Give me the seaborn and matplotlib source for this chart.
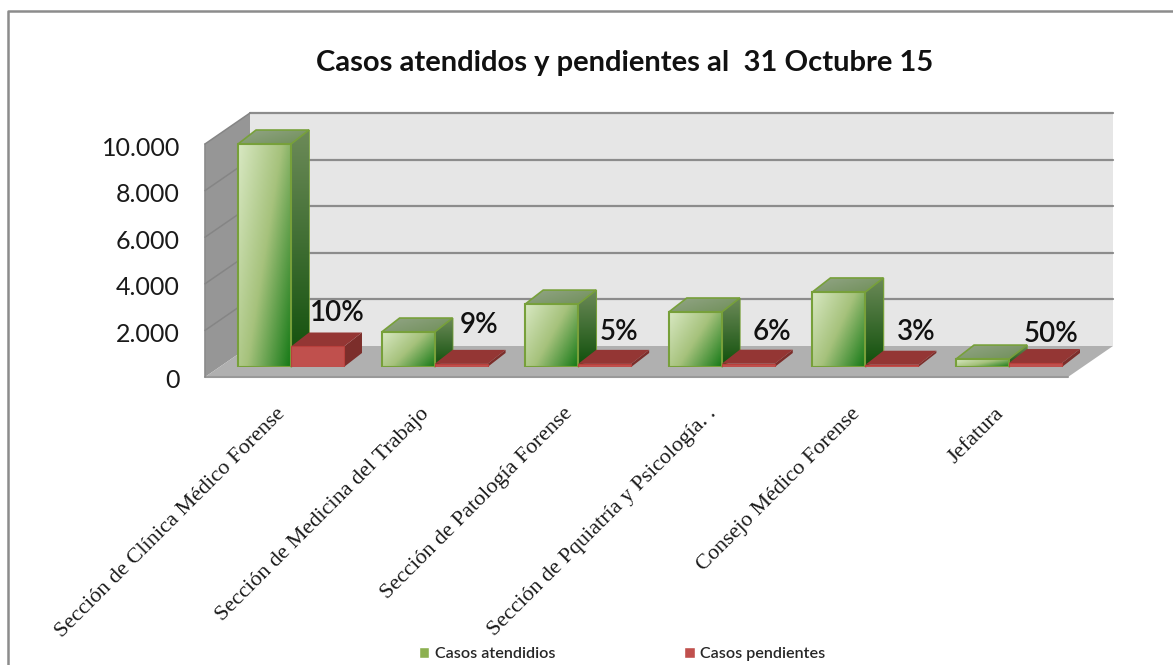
#!/usr/bin/env python3
"""Casos atendidos y pendientes: faux 3D bar chart on top of a seaborn barplot."""

import numpy as np
import pandas as pd
import matplotlib
matplotlib.use("Agg")
import matplotlib.pyplot as plt
from matplotlib.colors import LinearSegmentedColormap
from matplotlib.patches import Polygon
from matplotlib.ticker import FuncFormatter
from matplotlib.transforms import ScaledTranslation
import seaborn as sns

secciones = [
    "Sección de Clínica Médico Forense",
    "Sección de Medicina del Trabajo",
    "Sección de Patología Forense",
    "Sección de Pquiatría y Psicología. .",
    "Consejo Médico Forense",
    "Jefatura",
]
atendidos = [9570, 1500, 2700, 2360, 3220, 340]
pendientes = [880, 135, 135, 142, 97, 170]
etiquetas = ["10%", "9%", "5%", "6%", "3%", "50%"]
y_ticks = [0, 2000, 4000, 6000, 8000, 10000]
series = ["Casos atendidios", "Casos pendientes"]
titulo = "Casos atendidos y pendientes al  31 Octubre 15"

W, H = 1173, 665
PX_PER_UNIT = 233 / 10000
DEPTH = (18, 14)  # bar depth in pixels
LABEL_FONT = "Lato"

sns.set_theme(style="white")
plt.rcParams["font.family"] = [LABEL_FONT, "DejaVu Sans"]

fig = plt.figure(figsize=(W / 100, H / 100), dpi=100, facecolor="white")


def axes_px(left, top, right, bottom):
    """Add axes from image pixel coordinates."""
    return fig.add_axes([left / W, 1 - bottom / H, (right - left) / W, (bottom - top) / H])


# background layer in image pixels: border, walls, floor
bg = axes_px(0, 0, W, H)
bg.set_xlim(0, W)
bg.set_ylim(H, 0)
bg.axis("off")
bg.plot([7.5, 7.5, W], [H, 11, 11], color="#8c8c8c", lw=1.8)

front_l, front_r, front_y = 205, 1068, 377
back_dx, back_dy = 45, 31
top_y = front_y - 10000 * PX_PER_UNIT
bg.add_patch(Polygon([(front_l + back_dx, top_y - back_dy), (front_r + back_dx, top_y - back_dy),
                      (front_r + back_dx, front_y - back_dy), (front_l + back_dx, front_y - back_dy)],
                     fc="#e6e6e6", ec="none"))
bg.add_patch(Polygon([(front_l, top_y), (front_l + back_dx, top_y - back_dy),
                      (front_l + back_dx, front_y - back_dy), (front_l, front_y)],
                     fc="#969696", ec="none"))
bg.add_patch(Polygon([(front_l, front_y), (front_r, front_y),
                      (front_r + back_dx, front_y - back_dy), (front_l + back_dx, front_y - back_dy)],
                     fc="#b0b0b0", ec="none"))
bg.plot([front_l, front_r], [front_y, front_y], color="#999999", lw=1.5)
bg.plot([front_l, front_l], [front_y, top_y], color="#8a8a8a", lw=1.2)
for v in y_ticks[1:]:
    y = front_y - v * PX_PER_UNIT
    bg.plot([front_l + back_dx, front_r + back_dx], [y - back_dy, y - back_dy], color="#8c8c8c", lw=1.6)
    bg.plot([front_l, front_l + back_dx], [y, y - back_dy], color="#858585", lw=1.1)

# value axis lives on the front plane
frame = axes_px(front_l, top_y, front_r, front_y)
frame.patch.set_visible(False)
frame.set_ylim(0, 10000)
frame.set_xticks([])
frame.set_yticks(y_ticks)
frame.yaxis.set_major_formatter(FuncFormatter(lambda v, _: f"{int(v):,}".replace(",", ".")))
frame.tick_params(axis="y", length=0, pad=18, labelsize=18, labelcolor="#1a1a1a")
sns.despine(ax=frame, left=True, bottom=True)
y_label_shift = ScaledTranslation(0, -2 / 100, fig.dpi_scale_trans)
for lab in frame.get_yticklabels():
    lab.set_transform(lab.get_transform() + y_label_shift)

# bars live on a plane a bit behind the front one
ax = axes_px(219.2, 367 - 12000 * PX_PER_UNIT, 1080.8, 367)
ax.patch.set_visible(False)
df = pd.DataFrame({
    "seccion": secciones * 2,
    "casos": atendidos + pendientes,
    "serie": [series[0]] * len(secciones) + [series[1]] * len(secciones),
})
sns.barplot(data=df, x="seccion", y="casos", hue="serie", ax=ax, width=0.738, gap=0,
            palette=["#8cb050", "#c0504d"], saturation=1, errorbar=None)
ax.set_xlim(-0.5, 5.5)
ax.set_ylim(0, 12000)
ax.set_xlabel("")
ax.set_ylabel("")
ax.set_yticks([])
sns.despine(ax=ax, left=True, bottom=True)
ax.tick_params(axis="x", length=0, pad=27)
plt.setp(ax.get_xticklabels(), rotation=45, ha="right", rotation_mode="anchor",
         family="Liberation Serif", fontsize=16, color="#1a1a1a")
label_shift = ScaledTranslation(-15 / 100, 0, fig.dpi_scale_trans)
for lab in ax.get_xticklabels():
    lab.set_transform(lab.get_transform() + label_shift)

green_face = LinearSegmentedColormap.from_list("gf", ["#d8e8c2", "#a6c27c", "#167a17"])
green_side = LinearSegmentedColormap.from_list("gs", ["#6c8a58", "#0f4f0a"])
green_top = LinearSegmentedColormap.from_list("gt", ["#93a587", "#6f8f58"])

dx = DEPTH[0] / (861.6 / 6)
dy = DEPTH[1] / PX_PER_UNIT


def gradient_fill(cmap, extent, clip, z, diagonal=True):
    """Paint a gradient image limited to the given patch."""
    u, v = np.meshgrid(np.linspace(0, 1, 64), np.linspace(0, 1, 64))
    values = 0.6 * u + 0.4 * v if diagonal else v
    im = ax.imshow(values, cmap=cmap, extent=extent, origin="upper", aspect="auto",
                   vmin=0, vmax=1, zorder=z, interpolation="bilinear")
    im.set_clip_path(clip)


for group, (container, is_green) in enumerate(zip(ax.containers, [True, False])):
    for i, bar in enumerate(container):
        # groups drawn left to right, green before red
        z = 3 + i * 10 + group * 5
        x0, w, h = bar.get_x(), bar.get_width(), bar.get_height()
        x1 = x0 + w
        side = Polygon([(x1, 0), (x1 + dx, dy), (x1 + dx, h + dy), (x1, h)], closed=True,
                       clip_on=False, transform=ax.transData, zorder=z,
                       fc="#7c2e2b" if not is_green else "none",
                       ec="#77a03a" if is_green else "none", lw=1.2)
        top = Polygon([(x0, h), (x1, h), (x1 + dx, h + dy), (x0 + dx, h + dy)], closed=True,
                      clip_on=False, transform=ax.transData, zorder=z + 1,
                      fc="#943634" if not is_green else "none",
                      ec="#77a03a" if is_green else "none", lw=1.2)
        ax.add_patch(side)
        ax.add_patch(top)
        if is_green:
            gradient_fill(green_side, (x1, x1 + dx, 0, h + dy), side, z, diagonal=False)
            gradient_fill(green_top, (x0, x1 + dx, h, h + dy), top, z)
            gradient_fill(green_face, (x0, x1, 0, h), bar, z + 2)
            bar.set_facecolor("none")
            bar.set_edgecolor("#77a03a")
            bar.set_linewidth(1.5)
        else:
            bar.set_edgecolor("#b9403c")
            bar.set_linewidth(0.8)
        bar.set_zorder(z + 3)

ax.set_xlim(-0.5, 5.5)
ax.set_ylim(0, 12000)

# percent labels sit up and to the right of the red bars
nudges = [(0, -1), (-2, 5), (-6, -2), (4, -2), (4, -1), (-4, -5)]
for bar, texto, nudge in zip(ax.containers[1], etiquetas, nudges):
    ax.text(bar.get_x() + bar.get_width() / 2 + (20 + nudge[0]) / (861.6 / 6),
            bar.get_height() + (34 + nudge[1]) / PX_PER_UNIT, texto,
            ha="center", va="center", fontsize=20, color="#111111", weight="semibold", zorder=200)

sns.move_legend(ax, "center", bbox_to_anchor=(622 / W, 1 - 654 / H), bbox_transform=fig.transFigure,
                ncol=2, frameon=False, title=None, prop={"size": 11.6, "weight": "semibold"},
                handlelength=0.65, handleheight=0.7, handletextpad=0.35, columnspacing=8)

bg.text(625, 63.5, titulo, ha="center", va="center", fontsize=21, weight="bold", color="#111111")

plt.savefig("out.png", dpi=100)
plt.close()
